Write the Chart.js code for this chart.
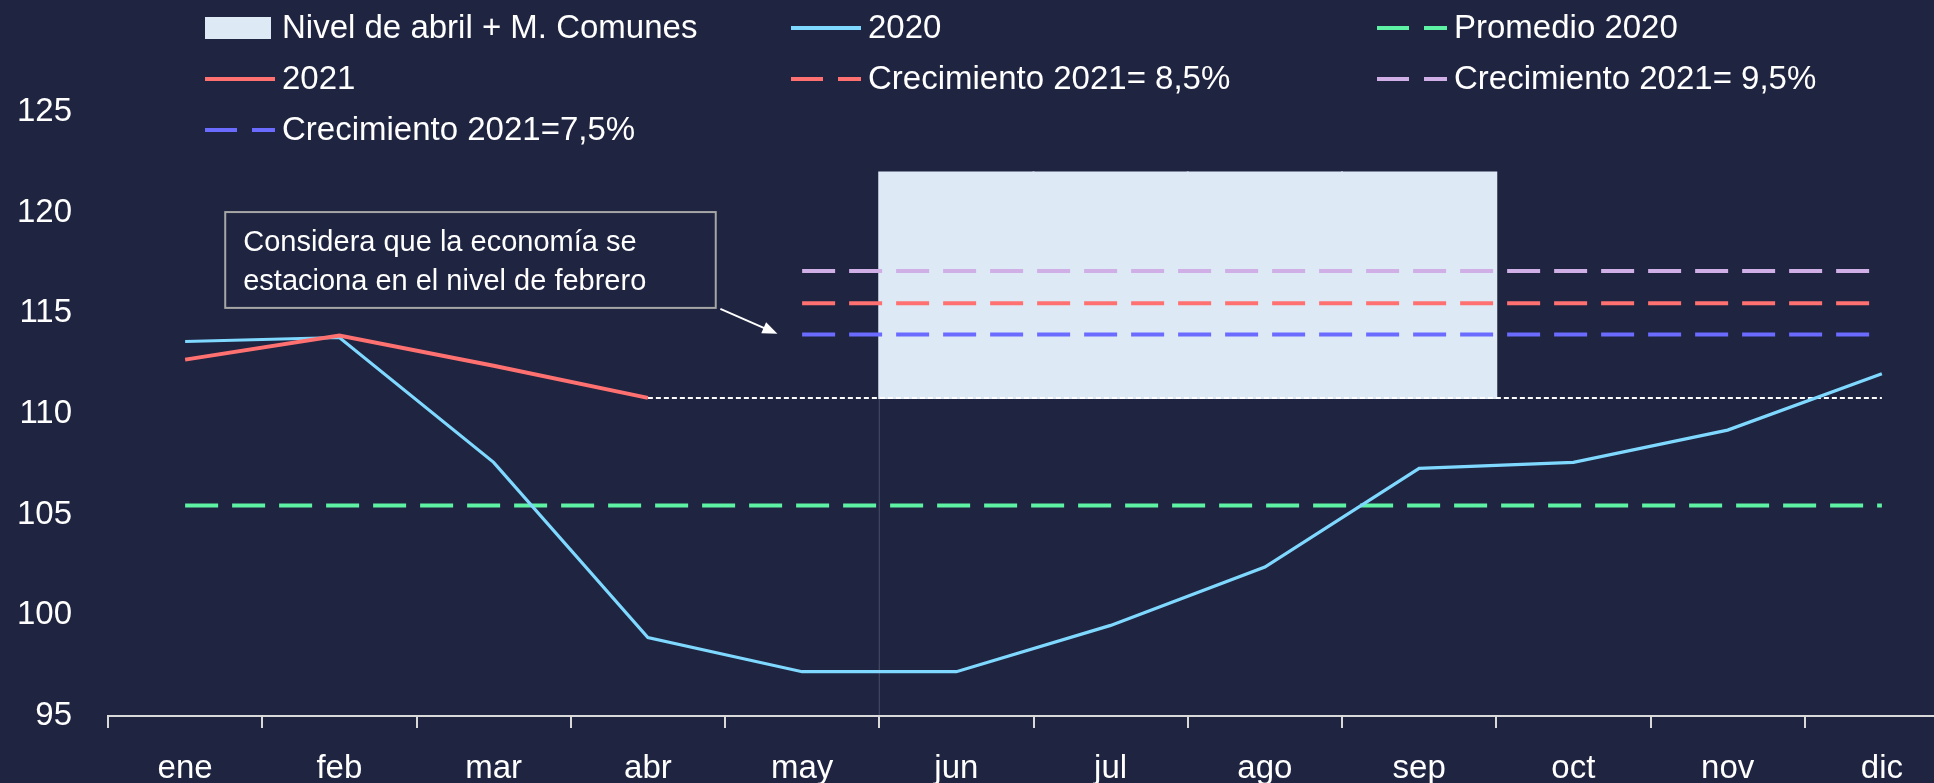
<!DOCTYPE html>
<html lang="es">
  <head>
    <meta charset="UTF-8" />
    <title>Nivel de actividad 2020 - 2021</title>
    <script src="https://cdn.jsdelivr.net/npm/chart.js@4.4.1/dist/chart.umd.min.js"></script>
    <style>
      html,
      body {
        margin: 0;
        padding: 0;
        background: #1f2440;
        overflow: hidden;
      }
      .chart-box {
        position: relative;
        width: 1959px;
        height: 783px;
      }
    </style>
  </head>
  <body>
    <div class="chart-box">
      <canvas id="chart"></canvas>
    </div>

    <script>
      const meses = ["ene", "feb", "mar", "abr", "may", "jun", "jul", "ago", "sep", "oct", "nov", "dic"];
      const serie2020 = [113.6, 113.8, 107.6, 98.9, 97.2, 97.2, 99.5, 102.4, 107.3, 107.6, 109.2, 112.0];
      const serie2021 = [112.7, 113.9, 112.4, 110.8, null, null, null, null, null, null, null, null];
      const promedio2020 = [105.45, 105.45, 105.45, 105.45, 105.45, 105.45, 105.45, 105.45, 105.45, 105.45, 105.45, 105.45];
      const crec85 = [null, null, null, null, 115.5, 115.5, 115.5, 115.5, 115.5, 115.5, 115.5, 115.5];
      const crec95 = [null, null, null, null, 117.1, 117.1, 117.1, 117.1, 117.1, 117.1, 117.1, 117.1];
      const crec75 = [null, null, null, null, 113.95, 113.95, 113.95, 113.95, 113.95, 113.95, 113.95, 113.95];
      const nivelAbril = [null, null, null, 110.8, 110.8, 110.8, 110.8, 110.8, 110.8, 110.8, 110.8, 110.8];
      const nivelMComunes = [null, null, null, null, null, [110.8, 122], [110.8, 122], [110.8, 122], [110.8, 122], null, null, null];
      const yTicks = [95, 100, 105, 110, 115, 120, 125];

      // nota: caja y flecha en unidades de los ejes (indice de mes, valor)
      const notaTexto = ["Considera que la economía se", "estaciona en el nivel de febrero"];
      const notaCaja = { x0: 0.26, x1: 3.44, y0: 120.03, y1: 115.27 };
      const notaFlecha = { x0: 3.47, y0: 115.22, x1: 3.84, y1: 113.98 };

      const FONT = '"Liberation Sans", Arial, sans-serif';

      // legend drawn as a 3-column grid like the original
      const gridLegend = {
        id: "gridLegend",
        afterDraw(chart) {
          const ctx = chart.ctx;
          ctx.save();
          ctx.font = "33px " + FONT;
          ctx.textBaseline = "middle";
          let n = 0;
          chart.data.datasets.forEach((ds) => {
            if (!ds.label) return;
            const x = 205 + (n % 3) * 586;
            const y = 28 + Math.floor(n / 3) * 51;
            if (ds.type === "bar") {
              ctx.fillStyle = ds.backgroundColor;
              ctx.fillRect(x, y - 11, 66, 22);
            } else {
              ctx.strokeStyle = ds.borderColor;
              ctx.lineWidth = 4;
              ctx.setLineDash(ds.borderDash ? [32, 15] : []);
              ctx.beginPath();
              ctx.moveTo(x, y);
              ctx.lineTo(x + 70, y);
              ctx.stroke();
              ctx.setLineDash([]);
            }
            ctx.fillStyle = "#ffffff";
            ctx.fillText(ds.label, x + 77, y + 1);
            n++;
          });
          ctx.restore();
        },
      };

      const notas = {
        id: "notas",
        afterDatasetsDraw(chart) {
          const ctx = chart.ctx;
          const xs = chart.scales.x;
          const ys = chart.scales.y;
          ctx.save();

          // thin line under the left edge of the box
          const xb = (xs.getPixelForValue(4) + xs.getPixelForValue(5)) / 2;
          ctx.strokeStyle = "rgba(200,210,230,0.25)";
          ctx.lineWidth = 1;
          ctx.beginPath();
          ctx.moveTo(xb, ys.getPixelForValue(110.8));
          ctx.lineTo(xb, ys.getPixelForValue(95));
          ctx.stroke();

          // text box
          const bx0 = xs.getPixelForValue(notaCaja.x0);
          const bx1 = xs.getPixelForValue(notaCaja.x1);
          const by0 = ys.getPixelForValue(notaCaja.y0);
          const by1 = ys.getPixelForValue(notaCaja.y1);
          ctx.fillStyle = "#1f2440";
          ctx.fillRect(bx0, by0, bx1 - bx0, by1 - by0);
          ctx.strokeStyle = "#a6a6a6";
          ctx.lineWidth = 2;
          ctx.strokeRect(bx0, by0, bx1 - bx0, by1 - by0);
          ctx.fillStyle = "#ffffff";
          ctx.font = "29px " + FONT;
          ctx.textBaseline = "alphabetic";
          notaTexto.forEach((t, i) => {
            ctx.fillText(t, bx0 + 18, by0 + 39 + i * 38.5);
          });

          // arrow
          const ax0 = xs.getPixelForValue(notaFlecha.x0);
          const ay0 = ys.getPixelForValue(notaFlecha.y0);
          const ax1 = xs.getPixelForValue(notaFlecha.x1);
          const ay1 = ys.getPixelForValue(notaFlecha.y1);
          const ang = Math.atan2(ay1 - ay0, ax1 - ax0);
          ctx.strokeStyle = "#ffffff";
          ctx.lineWidth = 2;
          ctx.beginPath();
          ctx.moveTo(ax0, ay0);
          ctx.lineTo(ax1 - 10 * Math.cos(ang), ay1 - 10 * Math.sin(ang));
          ctx.stroke();
          ctx.fillStyle = "#ffffff";
          ctx.beginPath();
          ctx.moveTo(ax1, ay1);
          ctx.lineTo(ax1 - 15 * Math.cos(ang) + 6 * Math.sin(ang), ay1 - 15 * Math.sin(ang) - 6 * Math.cos(ang));
          ctx.lineTo(ax1 - 15 * Math.cos(ang) - 6 * Math.sin(ang), ay1 - 15 * Math.sin(ang) + 6 * Math.cos(ang));
          ctx.closePath();
          ctx.fill();
          ctx.restore();
        },
      };

      function lineSet(label, data, color, width, dash, order) {
        return {
          type: "line",
          label: label,
          data: data,
          borderColor: color,
          backgroundColor: color,
          borderWidth: width,
          borderDash: dash,
          pointRadius: 0,
          tension: 0,
          fill: false,
          order: order,
        };
      }

      new Chart(document.getElementById("chart"), {
        type: "bar",
        data: {
          labels: meses,
          datasets: [
            {
              type: "bar",
              label: "Nivel de abril + M. Comunes",
              data: nivelMComunes,
              backgroundColor: "#ddeaf6",
              borderWidth: 0,
              barPercentage: 1,
              categoryPercentage: 1,
              inflateAmount: 1,
              order: 20,
            },
            lineSet("2020", serie2020, "#7fd8ff", 3.2, undefined, 3),
            lineSet("Promedio 2020", promedio2020, "#5ef2a4", 4, [33, 14], 4),
            lineSet("2021", serie2021, "#ff7171", 4, undefined, 1),
            lineSet("Crecimiento 2021= 8,5%", crec85, "#ff7171", 4, [33, 14], 5),
            lineSet("Crecimiento 2021= 9,5%", crec95, "#cfafe6", 4, [33, 14], 5),
            lineSet("Crecimiento 2021=7,5%", crec75, "#6b6bff", 4, [33, 14], 5),
            lineSet(null, nivelAbril, "#ffffff", 2, [5, 3], 6),
          ],
        },
        options: {
          responsive: true,
          maintainAspectRatio: false,
          animation: false,
          layout: { padding: { top: 112, left: 0, right: 0, bottom: 0 } },
          font: { family: FONT },
          plugins: {
            legend: { display: false },
            tooltip: { enabled: false },
          },
          scales: {
            x: {
              offset: true,
              afterFit: (s) => {
                s.height = 67;
              },
              grid: {
                offset: true,
                drawOnChartArea: false,
                drawTicks: true,
                tickLength: 12,
                color: "#d9d9d9",
                lineWidth: 2,
              },
              border: { color: "#d9d9d9", width: 2 },
              ticks: { color: "#ffffff", padding: 21, font: { family: FONT, size: 33 } },
            },
            y: {
              min: 95,
              max: 125,
              afterFit: (s) => {
                s.width = 108;
              },
              afterBuildTicks: (s) => {
                s.ticks = yTicks.map((v) => ({ value: v }));
              },
              grid: { display: false, drawTicks: false },
              border: { display: false },
              ticks: { color: "#ffffff", padding: 36, font: { family: FONT, size: 33 } },
            },
          },
        },
        plugins: [gridLegend, notas],
      });
    </script>
  </body>
</html>
